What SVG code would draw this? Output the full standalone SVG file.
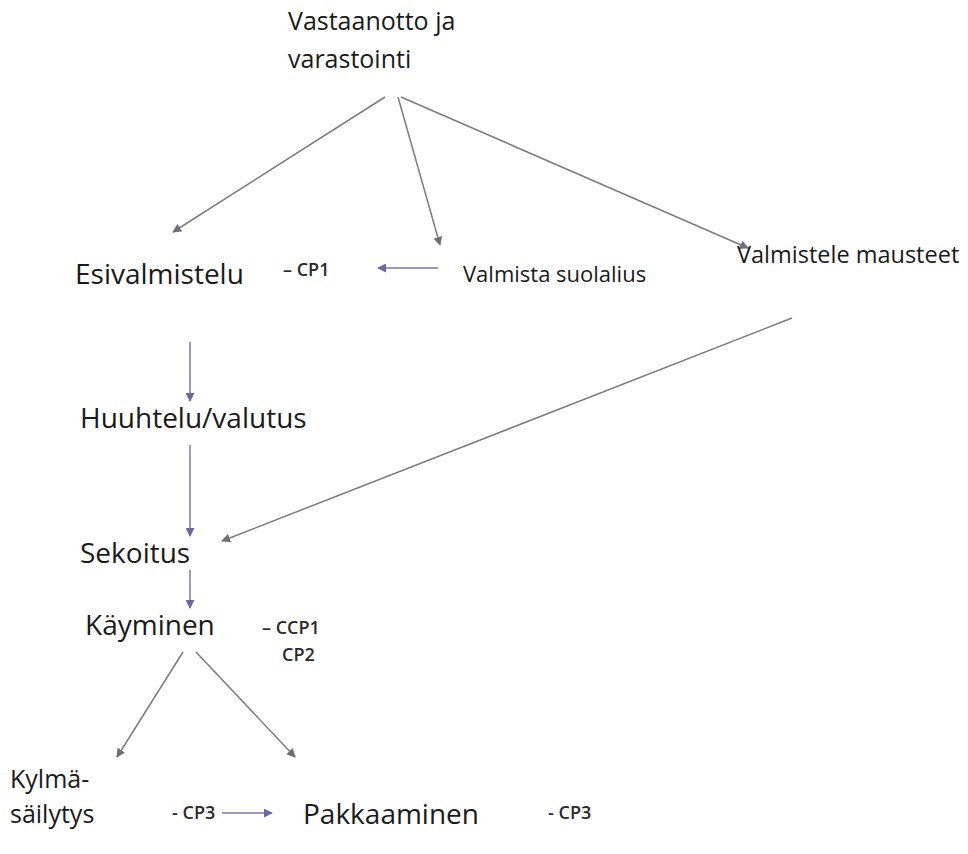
<svg xmlns="http://www.w3.org/2000/svg" width="968" height="854" viewBox="0 0 968 854">
  <style>
    .lbl { font-family: "Open Sans", "Liberation Sans", sans-serif; fill: #1a1a1a; }
    .big { font-size: 28px; }
    .top { font-size: 25px; }
    .mid { font-size: 25px; }
    .sm { font-size: 22px; }
    .sm2 { font-size: 23.5px; }
    .cp { font-family: "Open Sans", "Liberation Sans", sans-serif; font-size: 18px; font-weight: 600; fill: #2a2a2a; }
    .gray { stroke: #7a7a80; stroke-width: 1.5; fill: none; marker-end: url(#ahG); }
    .blue { stroke: #7a78a8; stroke-width: 1.5; fill: none; marker-end: url(#ahB); }
  </style>
  <defs>
    <marker id="ahG" viewBox="0 0 10 10" refX="9" refY="5" markerWidth="9" markerHeight="9" markerUnits="userSpaceOnUse" orient="auto">
      <path d="M0,0 L10,5 L0,10 z" fill="#6e6e78"/>
    </marker>
    <marker id="ahB" viewBox="0 0 10 10" refX="9" refY="5" markerWidth="9" markerHeight="9" markerUnits="userSpaceOnUse" orient="auto">
      <path d="M0,0 L10,5 L0,10 z" fill="#6a68a0"/>
    </marker>
  </defs>
  <rect width="968" height="854" fill="#ffffff"/>

  <g id="connectors">
    <line class="gray" x1="385" y1="97" x2="173" y2="232"/>
    <line class="gray" x1="398" y1="97" x2="440" y2="245"/>
    <line class="gray" x1="401" y1="97" x2="748" y2="248"/>
    <line class="blue" x1="438" y1="268" x2="378" y2="268"/>
    <line class="gray" x1="792" y1="318" x2="222" y2="541"/>
    <line class="blue" x1="190" y1="342" x2="190" y2="401"/>
    <line class="blue" x1="190" y1="445" x2="190" y2="536"/>
    <line class="blue" x1="190" y1="570" x2="190" y2="608"/>
    <line class="gray" x1="183" y1="652" x2="117" y2="757"/>
    <line class="gray" x1="196" y1="652" x2="295" y2="757"/>
    <line class="blue" x1="222" y1="813" x2="272" y2="813"/>
  </g>

  <g id="vastaanotto">
    <text class="lbl top" x="288" y="30">Vastaanotto ja</text>
    <text class="lbl top" x="288" y="68">varastointi</text>
  </g>
  <g id="esivalmistelu">
    <text class="lbl big" x="75" y="284">Esivalmistelu</text>
    <text class="cp" x="283" y="276">– CP1</text>
  </g>
  <g id="suolalius">
    <text class="lbl sm" x="463" y="282">Valmista suolalius</text>
  </g>
  <g id="mausteet">
    <text class="lbl sm2" x="737" y="263">Valmistele mausteet</text>
  </g>
  <g id="huuhtelu">
    <text class="lbl big" x="80" y="428">Huuhtelu/valutus</text>
  </g>
  <g id="sekoitus">
    <text class="lbl big" x="80" y="563">Sekoitus</text>
  </g>
  <g id="kayminen">
    <text class="lbl big" x="85" y="635">Käyminen</text>
    <text class="cp" x="262" y="634">– CCP1</text>
    <text class="cp" x="282" y="661">CP2</text>
  </g>
  <g id="kylmasailytys">
    <text class="lbl mid" x="10" y="788">Kylmä-</text>
    <text class="lbl mid" x="10" y="823">säilytys</text>
    <text class="cp" x="172" y="819">- CP3</text>
  </g>
  <g id="pakkaaminen">
    <text class="lbl big" x="303" y="824">Pakkaaminen</text>
    <text class="cp" x="548" y="819">- CP3</text>
  </g>
</svg>
